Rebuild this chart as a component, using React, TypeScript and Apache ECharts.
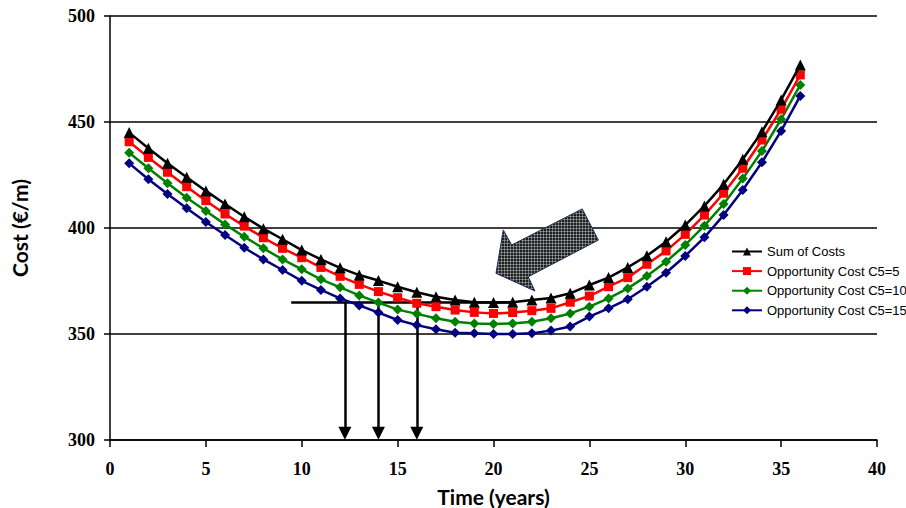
import React, { useEffect, useRef } from "react";
import * as echarts from "echarts";

const years = Array.from({ length: 36 }, (_, i) => i + 1);

const sumOfCosts = [
  445.0, 437.6, 430.5, 423.9, 417.5, 411.3, 405.3, 399.7, 394.7, 389.6, 385.2, 381.2,
  377.8, 375.2, 372.3, 369.7, 367.6, 366.0, 365.0, 364.8, 365.0, 366.0, 367.0, 369.2,
  373.1, 376.6, 381.4, 386.9, 393.5, 401.4, 410.4, 420.6, 432.4, 445.4, 460.4, 476.9,
];
const oppC5_5 = [
  440.7, 433.3, 426.3, 419.5, 412.9, 406.6, 400.9, 395.4, 390.4, 386.0, 381.4, 377.2,
  373.4, 370.0, 367.1, 364.5, 362.9, 361.3, 360.2, 359.7, 360.1, 361.0, 362.1, 365.0,
  367.9, 372.3, 376.6, 382.9, 389.2, 397.0, 406.1, 416.4, 428.2, 441.5, 456.0, 472.2,
];
const oppC5_10 = [
  435.5, 428.2, 421.1, 414.3, 408.0, 401.7, 395.9, 390.4, 385.2, 380.5, 375.8, 372.0,
  368.2, 364.8, 361.5, 359.5, 357.4, 355.8, 355.0, 354.7, 355.0, 355.8, 357.4, 359.7,
  362.9, 366.8, 371.5, 377.4, 384.1, 392.0, 401.1, 411.3, 423.3, 436.3, 451.3, 467.5,
];
const oppC5_15 = [
  430.5, 423.0, 416.0, 409.3, 402.8, 396.7, 390.7, 385.2, 380.2, 375.1, 370.8, 366.8,
  363.5, 360.1, 356.6, 354.2, 352.2, 350.6, 350.3, 350.0, 350.0, 350.3, 351.6, 353.5,
  358.2, 362.1, 366.4, 372.3, 378.9, 386.8, 395.6, 406.1, 417.9, 431.0, 445.8, 462.3,
];

const seriesNames = [
  "Sum of Costs",
  "Opportunity Cost C5=5",
  "Opportunity Cost C5=10",
  "Opportunity Cost C5=15",
];

// reference level and the optimum years pointed at by the vertical arrows
const refLevel = 365;
const refLineStart = 9.45;
const refLineEnd = 21;
const optimumYears = [12.25, 14, 16];

// big hatched arrow outline, in data coordinates
const bigArrow: [number, number][] = [
  [20.13, 378.6],
  [20.51, 399.1],
  [20.95, 392.0],
  [24.63, 409.0],
  [25.47, 394.3],
  [21.81, 377.0],
  [22.16, 370.3],
];

export default function App() {
  const ref = useRef<HTMLDivElement>(null);

  useEffect(() => {
    if (!ref.current) return;
    const chart = echarts.init(ref.current, undefined, { renderer: "svg" });

    const mk = (vals: number[]) => vals.map((v, i) => [years[i], v]);

    const axisLabelStyle = {
      fontFamily: "Liberation Serif",
      fontWeight: "bold" as const,
      fontSize: 18,
      color: "#000",
    };
    const nameStyle = {
      fontFamily: "Lato",
      fontWeight: "bold" as const,
      fontSize: 21,
      color: "#000",
    };

    const markLineData: any[] = [
      [
        { coord: [refLineStart, refLevel], symbol: "none" },
        { coord: [refLineEnd, refLevel], symbol: "none" },
      ],
      ...optimumYears.map((x) => [
        { coord: [x, refLevel], symbol: "none" },
        { coord: [x, 303.2], symbol: "triangle" },
      ]),
    ];

    const colors = ["#000000", "#ff0000", "#008000", "#000080"];
    const symbols = ["triangle", "rect", "diamond", "diamond"];
    const sizes = [11, 9, 10, 10];
    const datas = [sumOfCosts, oppC5_5, oppC5_10, oppC5_15];

    const series: any[] = datas.map((d, i) => ({
      type: "line",
      name: seriesNames[i],
      data: mk(d),
      symbol: symbols[i],
      symbolSize: sizes[i],
      showSymbol: true,
      color: colors[i],
      lineStyle: { color: colors[i], width: 2.5 },
      itemStyle: { color: colors[i] },
      z: 10 - i,
      emphasis: { disabled: true },
    }));

    series[0].markLine = {
      silent: true,
      symbolSize: [13, 13],
      label: { show: false },
      lineStyle: { color: "#000", width: 2.5, type: "solid" },
      emphasis: { disabled: true },
      data: markLineData,
    };

    chart.setOption({
      animation: false,
      grid: { left: 110, right: 29, top: 16, bottom: 68, outerBoundsMode: "none", containLabel: false },
      legend: {
        orient: "vertical",
        left: 726,
        top: 240,
        itemWidth: 30,
        itemHeight: 10,
        itemGap: 6.6,
        selectedMode: false,
        textStyle: { fontFamily: "Liberation Sans", fontSize: 13, color: "#000" },
        data: seriesNames,
      },
      xAxis: {
        type: "value",
        min: 0,
        max: 40,
        interval: 5,
        name: "Time (years)",
        nameLocation: "middle",
        nameGap: 46,
        nameTextStyle: nameStyle,
        axisLine: { lineStyle: { color: "#000", width: 1.5 } },
        axisTick: { show: true, length: 7, lineStyle: { color: "#000", width: 1.5 } },
        axisLabel: { ...axisLabelStyle, margin: 20 },
        splitLine: { show: false },
      },
      yAxis: {
        type: "value",
        min: 300,
        max: 500,
        interval: 50,
        name: "Cost (€/m)",
        nameLocation: "middle",
        nameGap: 80,
        nameTextStyle: nameStyle,
        axisLine: { show: true, lineStyle: { color: "#000", width: 1.5 } },
        axisTick: { show: true, length: 6, lineStyle: { color: "#000", width: 1.5 } },
        axisLabel: { ...axisLabelStyle, margin: 15 },
        splitLine: { show: true, lineStyle: { color: "#000", width: 1.5 } },
      },
      series,
    });

    // hatched pattern for the big arrow
    let fill: any = "#3c4242";
    try {
      const c = document.createElement("canvas");
      c.width = 3;
      c.height = 3;
      const ctx = c.getContext("2d");
      if (ctx) {
        ctx.fillStyle = "#1c2020";
        ctx.fillRect(0, 0, 3, 3);
        ctx.fillStyle = "rgba(225,225,225,0.42)";
        ctx.fillRect(0, 0, 3, 1);
        ctx.fillRect(0, 0, 1, 3);
        fill = { image: c.toDataURL(), repeat: "repeat" };
      }
    } catch (e) {
      fill = "#3c4242";
    }

    const pts = bigArrow.map((p) => chart.convertToPixel({ gridIndex: 0 }, p) as number[]);
    chart.setOption({
      graphic: [
        {
          type: "polygon",
          shape: { points: pts },
          style: { fill, stroke: "#1d2a5c", lineWidth: 1 },
          z: 5,
          silent: true,
        },
      ],
    });

    return () => chart.dispose();
  }, []);

  return (
    <div
      ref={ref}
      style={{ position: "fixed", left: 0, top: 0, width: 906, height: 508, background: "#fff" }}
    />
  );
}
